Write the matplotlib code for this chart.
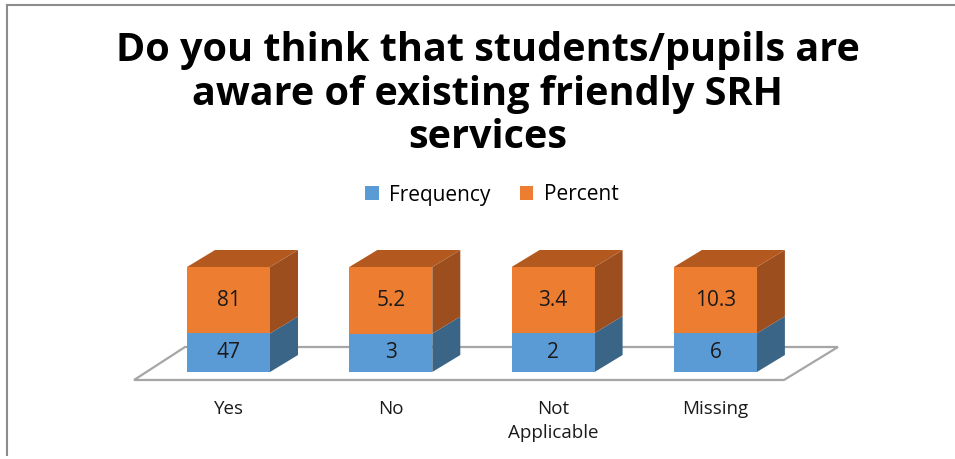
import numpy as np
import matplotlib.pyplot as plt
from matplotlib.patches import Polygon, Patch
from matplotlib.lines import Line2D

categories = ["Yes", "No", "Not\nApplicable", "Missing"]
frequency = [47, 3, 2, 6]
percent = [81, 5.2, 3.4, 10.3]
series_names = ["Frequency", "Percent"]
title = "Do you think that students/pupils are\naware of existing friendly SRH\nservices"

# colours: front, side, top
blue = ("#5B9BD5", "#3B6587", "#4A7BA8")
orange = ("#ED7D31", "#9C4E1E", "#B3591F")

W, H = 955, 459
fig = plt.figure(figsize=(W / 100, H / 100), dpi=100)
ax = fig.add_axes([0, 0, 1, 1])

# pixel mapping: x_px = 228.5 + 162.3 * i ; y_px = 372 - 1.05 * pct
ax.set_xlim(-228.5 / 162.3, (W - 228.5) / 162.3)
ax.set_ylim((372 - H) / 1.05, 372 / 1.05)
ax.axis("off")

bar_w = 83 / 162.3
dx = 28 / 162.3
dy = 17 / 1.05

# floor
floor = Polygon([(-0.582, -7.6), (3.423, -7.6), (3.755, 23.8), (-0.268, 23.8)],
                closed=True, facecolor="white", edgecolor="#A6A6A6", lw=1.6)
ax.add_patch(floor)


def draw_block(x0, y0, y1, cols, top=False):
    x1 = x0 + bar_w
    ax.add_patch(Polygon([(x1, y0), (x1 + dx, y0 + dy), (x1 + dx, y1 + dy), (x1, y1)],
                         closed=True, facecolor=cols[1], edgecolor="none"))
    ax.add_patch(Polygon([(x0, y0), (x1, y0), (x1, y1), (x0, y1)],
                         closed=True, facecolor=cols[0], edgecolor="none"))
    if top:
        ax.add_patch(Polygon([(x0, y1), (x1, y1), (x1 + dx, y1 + dy), (x0 + dx, y1 + dy)],
                             closed=True, facecolor=cols[2], edgecolor="none"))


for i, (f, p) in enumerate(zip(frequency, percent)):
    total = f + p
    fb = 100 * f / total
    x0 = i - bar_w / 2
    draw_block(x0, 0, fb, blue)
    draw_block(x0, fb, 100, orange, top=True)
    ax.text(i, fb / 2, f"{f}", ha="center", va="center", fontsize=15,
            family="Open Sans", color="#1a1a1a")
    ax.text(i, fb + (100 - fb) / 2, f"{p}", ha="center", va="center", fontsize=15,
            family="Open Sans", color="#1a1a1a")
    ax.text(i, -26.5, categories[i], ha="center", va="top", fontsize=13.5,
            family="Open Sans", color="#1a1a1a", linespacing=1.45)

fig.text(487.5 / W, 1 - 94 / H, title, ha="center", va="center", fontsize=28.5,
         fontweight="bold", family="Open Sans", linespacing=1.16)

handles = [Patch(facecolor=blue[0]), Patch(facecolor=orange[0])]
fig.legend(handles, series_names, loc="center", bbox_to_anchor=(492 / W, 1 - 195 / H),
           ncol=2, frameon=False, prop={"family": "Open Sans", "size": 15},
           handlelength=0.65, handleheight=0.65, handletextpad=0.5, columnspacing=1.4)

# frame border (top and left)
fig.add_artist(Line2D([7 / W, 1], [1 - 5 / H, 1 - 5 / H], color="#8c8c8c", lw=1.5))
fig.add_artist(Line2D([7 / W, 7 / W], [1 - 5 / H, 1 - 455 / H], color="#8c8c8c", lw=1.5))

fig.savefig("out.png", dpi=100)
